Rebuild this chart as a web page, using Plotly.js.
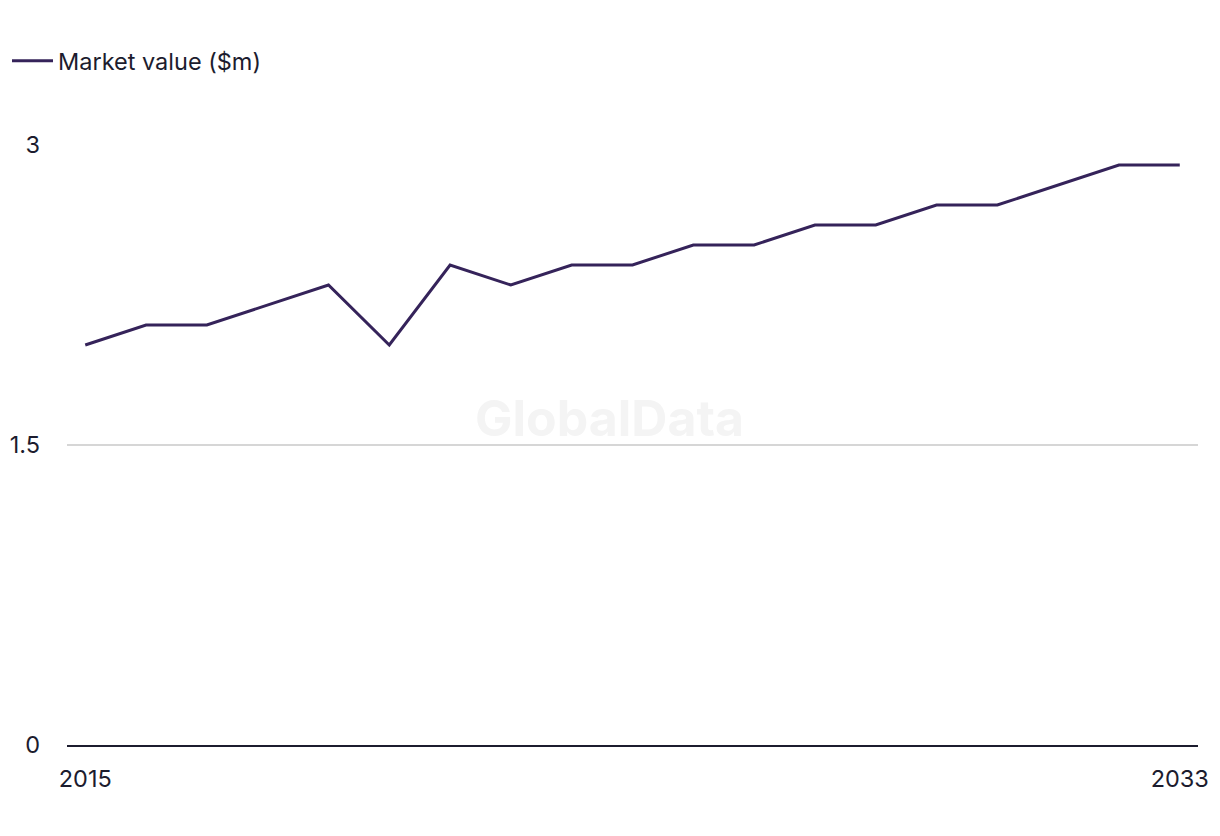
<!DOCTYPE html>
<html>
<head>
<meta charset="utf-8">
<script src="https://cdn.plot.ly/plotly-3.0.1.min.js"></script>
<style>html,body{margin:0;padding:0;background:#fff;}#chart{width:1220px;height:836px;}</style>
</head>
<body>
<div id="chart"></div>
<script>
const years = [2015,2016,2017,2018,2019,2020,2021,2022,2023,2024,2025,2026,2027,2028,2029,2030,2031,2032,2033];
const marketValue = [2.0,2.1,2.1,2.2,2.3,2.0,2.4,2.3,2.4,2.4,2.5,2.5,2.6,2.6,2.7,2.7,2.8,2.9,2.9];
const seriesName = 'Market value ($m)';
const xTicks = [2015, 2033];
const yTicks = [0, 1.5, 3];
const yTickText = ['0', '1.5', '3'];

const textColor = '#1c1c2e';
const fontFam = 'Inter, Liberation Sans, Arial, sans-serif';

const trace = {
  x: years, y: marketValue, type: 'scatter', mode: 'lines', name: seriesName,
  line: {color: '#35235a', width: 3}
};

const layout = {
  width: 1220, height: 836,
  paper_bgcolor: '#ffffff', plot_bgcolor: '#ffffff',
  margin: {l: 67, r: 22, t: 145, b: 91},
  font: {family: fontFam, size: 23.5, color: textColor},
  showlegend: true,
  legend: {
    xref: 'container', yref: 'container', x: 7 / 1220, y: 1 - 39 / 836, xanchor: 'left', yanchor: 'top',
    orientation: 'h', itemwidth: 41, font: {size: 23.5, color: textColor, family: fontFam}
  },
  xaxis: {
    range: [2014.7, 2033.3], tickvals: xTicks, ticktext: xTicks.map(String),
    showgrid: false, zeroline: false, showline: true, linecolor: textColor, linewidth: 2,
    ticks: '', ticklabelstandoff: 12, fixedrange: true
  },
  yaxis: {
    range: [0, 3], tickvals: yTicks, ticktext: yTickText,
    showgrid: true, gridcolor: '#d6d6d6', gridwidth: 1.5, zeroline: false, showline: false,
    ticks: '', ticklabelstandoff: 26, fixedrange: true
  },
  annotations: [{
    text: '<b>GlobalData</b>', xref: 'paper', yref: 'paper', x: 0.48, y: 0.545,
    showarrow: false, font: {size: 50, color: '#f4f4f4', family: fontFam}
  }]
};

Plotly.newPlot('chart', [trace], layout, {displayModeBar: false, staticPlot: true});
</script>
</body>
</html>
